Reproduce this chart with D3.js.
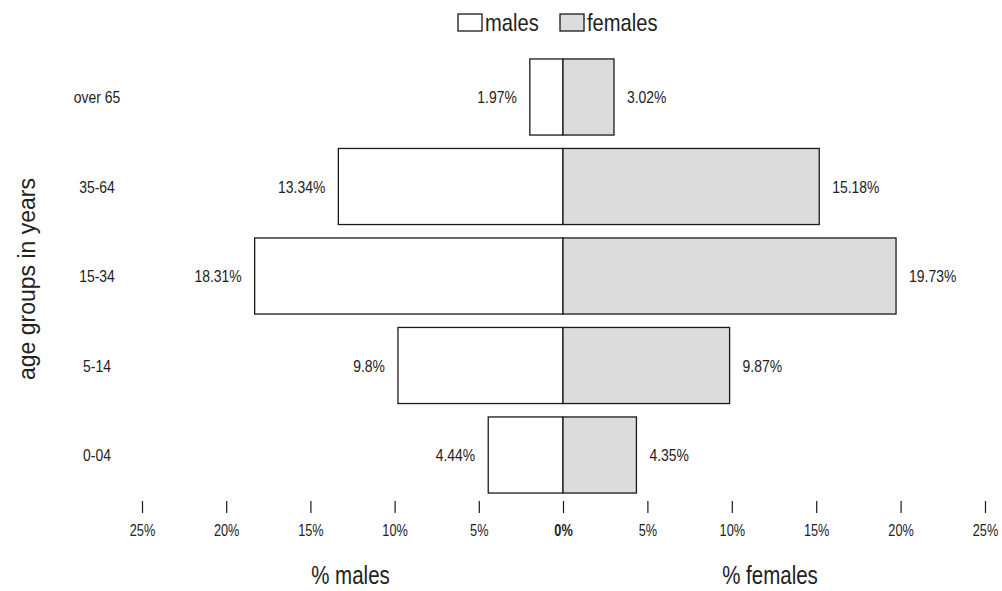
<!DOCTYPE html>
<html><head><meta charset="utf-8">
<script src="https://cdn.jsdelivr.net/npm/d3@7"></script>
<style>
body{margin:0;background:#fff;}
svg text{font-family:"Liberation Sans Narrow","Arial Narrow","Liberation Sans",Arial,sans-serif;fill:#222;}
</style></head>
<body><svg id="c" width="1002" height="591"></svg>
<script>
const categories = ["over 65","35-64","15-34","5-14","0-04"];
const males = [1.97,13.34,18.31,9.8,4.44];
const females = [3.02,15.18,19.73,9.87,4.35];
const maleLabels = ["1.97%","13.34%","18.31%","9.8%","4.44%"];
const femaleLabels = ["3.02%","15.18%","19.73%","9.87%","4.35%"];
const leftTicks = [5,10,15,20,25];
const rightTicks = [0,5,10,15,20,25];

const svg = d3.select("#c");
const x0 = 563;
const xL = d3.scaleLinear().domain([0,25]).range([x0,142]);
const xR = d3.scaleLinear().domain([0,25]).range([x0,985]);
const y = d3.scaleBand().domain(categories).range([52.25,499.75]).paddingInner(0.15).paddingOuter(0.075);
const stroke = "#1a1a1a";

function ctext(parent, x, yy, str, size, sx, anchor){
  return parent.append("text")
    .attr("transform",`translate(${x},${yy}) scale(${sx},1)`)
    .attr("text-anchor",anchor).attr("font-size",size).text(str);
}

// bars
svg.selectAll("rect.m").data(categories).join("rect")
  .attr("x",(d,i)=>xL(males[i])).attr("y",d=>y(d))
  .attr("width",(d,i)=>x0-xL(males[i])).attr("height",y.bandwidth())
  .attr("fill","#fff").attr("stroke",stroke).attr("stroke-width",1.3);
svg.selectAll("rect.f").data(categories).join("rect")
  .attr("x",x0).attr("y",d=>y(d))
  .attr("width",(d,i)=>xR(females[i])-x0).attr("height",y.bandwidth())
  .attr("fill","#dcdcdc").attr("stroke",stroke).attr("stroke-width",1.3);

// value and category labels
categories.forEach((c,i)=>{
  const yc = y(c)+y.bandwidth()/2+6;
  ctext(svg, xL(males[i])-13, yc, maleLabels[i], 17, 0.82, "end");
  ctext(svg, xR(females[i])+13, yc, femaleLabels[i], 17, 0.82, "start");
  ctext(svg, 97, yc, c, 16, 0.87, "middle");
});

// axes
function styleAxis(g){
  g.select(".domain").remove();
  g.selectAll(".tick line").attr("stroke",stroke).attr("stroke-width",1.2);
  g.selectAll(".tick text").attr("font-size",17).attr("font-family",null).attr("fill","#222")
    .attr("transform","scale(0.75,1)");
}
const gl = svg.append("g").attr("transform","translate(0,501)")
  .call(d3.axisBottom(xL).tickValues(leftTicks).tickSize(12).tickPadding(11).tickFormat(d=>d+"%"));
styleAxis(gl);
const gr = svg.append("g").attr("transform","translate(0,501)")
  .call(d3.axisBottom(xR).tickValues(rightTicks).tickSize(12).tickPadding(11).tickFormat(d=>d+"%"));
styleAxis(gr);
gr.selectAll(".tick text").filter(d=>d===0).attr("font-weight","bold");

// axis titles
ctext(svg, 350.5, 584, "% males", 25, 0.82, "middle");
ctext(svg, 770, 584, "% females", 25, 0.82, "middle");
svg.append("text").attr("transform","translate(35,279) rotate(-90)").attr("text-anchor","middle")
  .attr("font-size",23).style("font-family","'Liberation Sans',Arial,sans-serif").text("age groups in years");

// legend
const legend = [{name:"males",fill:"#fff",x:458},{name:"females",fill:"#dcdcdc",x:560}];
legend.forEach(l=>{
  svg.append("rect").attr("x",l.x).attr("y",14).attr("width",24).attr("height",17)
    .attr("fill",l.fill).attr("stroke",stroke).attr("stroke-width",1.3);
  ctext(svg, l.x+27, 31, l.name, 24, 0.84, "start");
});
</script></body></html>
